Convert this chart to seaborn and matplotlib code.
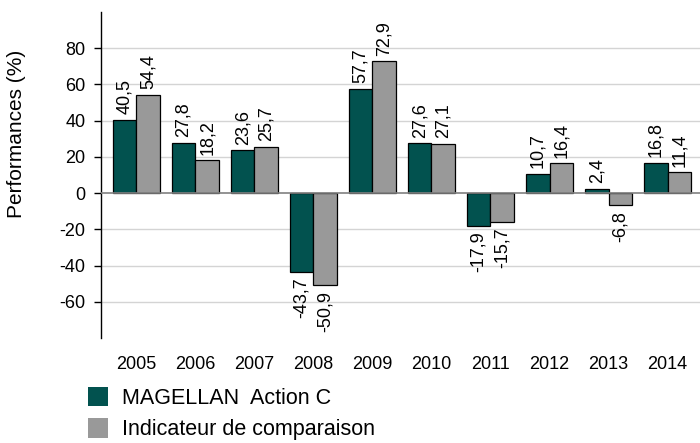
import matplotlib
matplotlib.use("Agg")
import matplotlib.pyplot as plt
import seaborn as sns
import pandas as pd
from matplotlib.patches import Patch

years = ["2005", "2006", "2007", "2008", "2009", "2010", "2011", "2012", "2013", "2014"]
magellan = [40.5, 27.8, 23.6, -43.7, 57.7, 27.6, -17.9, 10.7, 2.4, 16.8]
indicateur = [54.4, 18.2, 25.7, -50.9, 72.9, 27.1, -15.7, 16.4, -6.8, 11.4]
series_names = ["MAGELLAN  Action C", "Indicateur de comparaison"]
colors = ["#02524F", "#999999"]
yticks = [-60, -40, -20, 0, 20, 40, 60, 80]

sns.set_theme(style="white")
plt.rcParams["font.family"] = ["Liberation Sans", "DejaVu Sans"]
plt.rcParams["text.color"] = "black"
plt.rcParams["xtick.color"] = "black"
plt.rcParams["ytick.color"] = "black"
plt.rcParams["axes.labelcolor"] = "black"

df = pd.DataFrame({
    "year": years * 2,
    "value": magellan + indicateur,
    "series": [series_names[0]] * len(years) + [series_names[1]] * len(years),
})

fig = plt.figure(figsize=(7, 4.43), dpi=100)
ax = fig.add_axes([101 / 700, 1 - 338 / 443, 1 - 101 / 700, (338 - 12) / 443])

sns.barplot(data=df, x="year", y="value", hue="series", hue_order=series_names,
            palette=colors, width=0.8, edgecolor="black", linewidth=0.9,
            saturation=1, ax=ax, legend=False, zorder=3)

for cont in ax.containers:
    labels = [f"{v:.1f}".replace(".", ",") for v in cont.datavalues]
    ax.bar_label(cont, labels=labels, rotation=90, padding=4, fontsize=13, color="black")

ax.set_ylim(-80, 100)
ax.set_xlim(-0.6, 9.55)
ax.set_yticks(yticks)
ax.set_yticklabels([str(t) for t in yticks], fontsize=13)
for t in yticks:
    if t != 0:
        ax.axhline(t, color="#d4d4d4", lw=1, zorder=1)
ax.axhline(0, color="#808080", lw=1.2, zorder=4)

for s in ["top", "right", "bottom"]:
    ax.spines[s].set_visible(False)
ax.spines["left"].set_color("black")
ax.spines["left"].set_linewidth(1)
ax.tick_params(axis="y", which="both", left=True, length=5, width=1, color="black", pad=6)
ax.tick_params(axis="x", bottom=False, labelsize=13, pad=7)
ax.set_xlabel("")
ax.set_ylabel("Performances (%)", fontsize=15)
ax.yaxis.set_label_coords(-0.125, 0.626)

handles = [Patch(facecolor=colors[0], edgecolor="none"), Patch(facecolor=colors[1], edgecolor="none")]
fig.legend(handles, series_names, loc="upper left", bbox_to_anchor=(0.1257, 0.127),
           frameon=False, fontsize=15.5, handlelength=0.95, handleheight=1.0,
           handletextpad=0.65, labelspacing=0.45, borderaxespad=0, borderpad=0)

fig.savefig("out.png", dpi=100)
